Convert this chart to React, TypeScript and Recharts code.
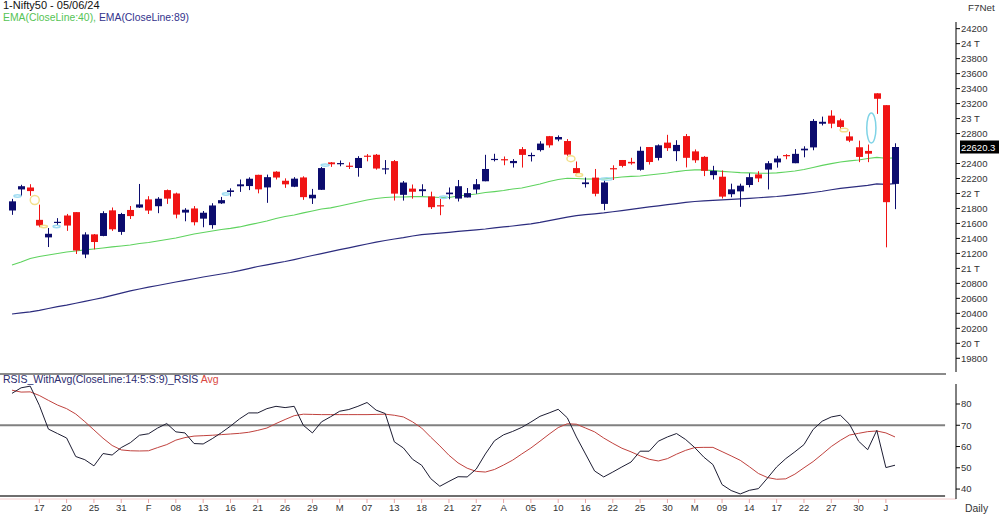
import React from 'react';
import { ComposedChart, Bar, Line, XAxis, YAxis, ReferenceLine, ReferenceDot } from 'recharts';

// trading days, 12 Jan 2024 .. 05 Jun 2024
const DATES = [
  '2024-01-12', '2024-01-15', '2024-01-16', '2024-01-17', '2024-01-18', '2024-01-19', '2024-01-20', '2024-01-23', '2024-01-24', '2024-01-25',
  '2024-01-29', '2024-01-30', '2024-01-31', '2024-02-01', '2024-02-02', '2024-02-05', '2024-02-06', '2024-02-07', '2024-02-08', '2024-02-09',
  '2024-02-12', '2024-02-13', '2024-02-14', '2024-02-15', '2024-02-16', '2024-02-19', '2024-02-20', '2024-02-21', '2024-02-22', '2024-02-23',
  '2024-02-26', '2024-02-27', '2024-02-28', '2024-02-29', '2024-03-01', '2024-03-02', '2024-03-04', '2024-03-05', '2024-03-06', '2024-03-07',
  '2024-03-11', '2024-03-12', '2024-03-13', '2024-03-14', '2024-03-15', '2024-03-18', '2024-03-19', '2024-03-20', '2024-03-21', '2024-03-22',
  '2024-03-26', '2024-03-27', '2024-03-28', '2024-04-01', '2024-04-02', '2024-04-03', '2024-04-04', '2024-04-05', '2024-04-08', '2024-04-09',
  '2024-04-10', '2024-04-12', '2024-04-15', '2024-04-16', '2024-04-18', '2024-04-19', '2024-04-22', '2024-04-23', '2024-04-24', '2024-04-25',
  '2024-04-26', '2024-04-29', '2024-04-30', '2024-05-02', '2024-05-03', '2024-05-06', '2024-05-07', '2024-05-08', '2024-05-09', '2024-05-10',
  '2024-05-13', '2024-05-14', '2024-05-15', '2024-05-16', '2024-05-17', '2024-05-18', '2024-05-21', '2024-05-22', '2024-05-23', '2024-05-24',
  '2024-05-27', '2024-05-28', '2024-05-29', '2024-05-30', '2024-05-31', '2024-06-03', '2024-06-04', '2024-06-05',
];

const OPEN = [
  21773, 22054, 22080, 21648, 21414, 21615, 21706, 21751, 21185, 21454,
  21433, 21775, 21487, 21780, 21812, 21921, 21830, 22045, 22000, 21745,
  21800, 21664, 21578, 21868, 22020, 22096, 22099, 22249, 22081, 22291,
  22170, 22090, 22214, 21935, 22049, 22415, 22403, 22371, 22340, 22505,
  22517, 22334, 22432, 21982, 22065, 22031, 21960, 21843, 21990, 21932,
  21947, 22053, 22163, 22456, 22458, 22405, 22592, 22506, 22579, 22765,
  22721, 22700, 22339, 22125, 22212, 21861, 22338, 22447, 22422, 22316,
  22620, 22475, 22679, 22565, 22766, 22562, 22489, 22245, 22224, 21990,
  22028, 22113, 22255, 22319, 22415, 22513, 22404, 22576, 22615, 22931,
  23039, 22977, 22762, 22617, 22568, 23337, 23179, 22128,
];
const HIGH = [
  21928, 22116, 22124, 21851, 21539, 21671, 21727, 21751, 21482, 21459,
  21763, 21813, 21741, 21833, 22127, 21964, 21951, 22053, 22011, 21804,
  21832, 21766, 21870, 21954, 22069, 22187, 22216, 22250, 22252, 22297,
  22202, 22218, 22229, 22061, 22353, 22420, 22440, 22416, 22498, 22526,
  22527, 22446, 22447, 22166, 22120, 22123, 22024, 21930, 22080, 22180,
  22073, 22193, 22516, 22530, 22494, 22459, 22620, 22545, 22698, 22768,
  22775, 22726, 22427, 22213, 22327, 22179, 22376, 22447, 22476, 22625,
  22620, 22655, 22783, 22711, 22794, 22588, 22499, 22369, 22307, 22131,
  22131, 22270, 22297, 22432, 22503, 22525, 22592, 22630, 22993, 23026,
  23111, 22998, 22825, 22705, 22653, 23338, 23179, 22670,
];
const LOW = [
  21715, 21965, 21969, 21550, 21285, 21575, 21501, 21192, 21137, 21254,
  21429, 21501, 21448, 21659, 21806, 21726, 21737, 21861, 21668, 21629,
  21574, 21549, 21530, 21860, 21960, 22021, 22045, 22002, 21875, 22187,
  22075, 22085, 21915, 21860, 22047, 22355, 22363, 22327, 22224, 22429,
  22318, 22257, 21906, 21905, 21931, 21966, 21793, 21710, 21923, 21893,
  21947, 21996, 22163, 22428, 22377, 22346, 22346, 22427, 22560, 22612,
  22697, 22503, 22259, 22079, 21962, 21777, 22180, 22349, 22384, 22305,
  22386, 22441, 22568, 22432, 22348, 22409, 22232, 22186, 21933, 21950,
  21822, 22082, 22152, 22054, 22345, 22457, 22404, 22483, 22577, 22908,
  22871, 22858, 22685, 22418, 22418, 23062, 21281, 21791,
];
const CLOSE = [
  21895, 22097, 22032, 21572, 21462, 21622, 21572, 21239, 21453, 21352,
  21738, 21522, 21726, 21698, 21854, 21772, 21930, 21931, 21718, 21783,
  21616, 21743, 21840, 21911, 22041, 22122, 22197, 22055, 22218, 22213,
  22122, 22198, 21951, 21983, 22339, 22390, 22406, 22356, 22474, 22494,
  22333, 22336, 21998, 22146, 22023, 22056, 21817, 21839, 22012, 22097,
  22005, 22124, 22327, 22462, 22453, 22434, 22515, 22514, 22666, 22643,
  22754, 22519, 22272, 22148, 21996, 22147, 22336, 22368, 22402, 22570,
  22420, 22643, 22605, 22648, 22476, 22443, 22302, 22303, 21958, 22055,
  22104, 22218, 22201, 22404, 22467, 22502, 22529, 22598, 22968, 22957,
  22932, 22888, 22705, 22488, 22531, 23264, 21884, 22620.3,
];

const EMA40 = [
  21045, 21085, 21132, 21159, 21179, 21199, 21219, 21232, 21246, 21259,
  21272, 21286, 21299, 21312, 21332, 21346, 21366, 21386, 21406, 21432,
  21459, 21479, 21499, 21519, 21533, 21553, 21580, 21606, 21633, 21666,
  21693, 21713, 21740, 21766, 21793, 21807, 21833, 21860, 21886, 21913,
  21933, 21946, 21953, 21953, 21957, 21957, 21953, 21946, 21946, 21966,
  21980, 21993, 22013, 22026, 22040, 22060, 22073, 22100, 22127, 22160,
  22187, 22203, 22200, 22193, 22193, 22193, 22207, 22220, 22227, 22233,
  22247, 22260, 22273, 22293, 22307, 22314, 22314, 22304, 22296, 22287,
  22278, 22274, 22270, 22270, 22274, 22287, 22300, 22320, 22347, 22374,
  22398, 22420, 22436, 22447, 22467, 22481, 22470, 22475,
];
const EMA89 = [
  20391, 20405, 20420, 20440, 20465, 20490, 20510, 20535, 20560, 20585,
  20610, 20640, 20670, 20700, 20725, 20750, 20772, 20795, 20818, 20840,
  20862, 20885, 20905, 20925, 20945, 20970, 20998, 21025, 21048, 21070,
  21092, 21118, 21145, 21172, 21198, 21223, 21250, 21275, 21300, 21326,
  21350, 21372, 21392, 21410, 21432, 21450, 21462, 21472, 21482, 21494,
  21505, 21515, 21526, 21540, 21553, 21566, 21580, 21595, 21615, 21638,
  21660, 21684, 21705, 21718, 21728, 21740, 21756, 21772, 21788, 21804,
  21820, 21835, 21850, 21865, 21880, 21893, 21900, 21907, 21914, 21920,
  21927, 21935, 21943, 21951, 21960, 21972, 21985, 21998, 22013, 22030,
  22050, 22069, 22082, 22095, 22107, 22127, 22122, 22132,
];

const RSI = [
  85, 87.6, 88.4, 79.4, 68.2, 66.1, 64, 55.3, 53.8, 50.9,
  56.7, 56, 59.5, 61.8, 65.3, 66, 68.7, 70.8, 66.9, 66.4,
  61.4, 61.2, 63.7, 66.5, 69.6, 73, 75.8, 75.8, 77.8, 78.9,
  78.3, 78.9, 70, 66.4, 71.6, 74, 76.6, 77.4, 78.9, 80.7,
  77.1, 75.5, 62.2, 59.3, 54, 51.2, 44.9, 41.3, 43.6, 45.8,
  45.7, 49.4, 56.5, 62.7, 65.5, 67.1, 69, 71.5, 74.2, 75.8,
  77.5, 73.5, 64.5, 56.5, 48.5, 45.7, 48, 50.4, 52.7, 57.8,
  57.8, 62.5, 64.5, 66.1, 63.3, 59.5, 55, 51.5, 42.1, 39.3,
  37.7, 39.4, 40.2, 45.2, 50.4, 54.3, 57.5, 60.9, 68, 71.9,
  73.9, 74.7, 70.5, 62.5, 58.5, 67.6, 50.1, 51.2,
];
const RSI_AVG = [
  86.5, 85.6, 85.7, 84, 81.7, 79.5, 77.8, 75.3, 71.7, 67.8,
  63.9, 60.5, 58.4, 58, 57.9, 58, 59.5, 60.9, 63, 64.2,
  64.9, 65.1, 65.3, 65.6, 65.9, 66.2, 66.7, 67.6, 68.7, 70.8,
  72.7, 74.5, 75.2, 75.1, 75, 75, 75, 75, 75, 75,
  75.1, 75.2, 74.7, 73.9, 71.6, 68.7, 64.4, 60.3, 55.9, 52.3,
  49.8, 48.3, 48, 49.2, 51.3, 53.6, 56.5, 59.3, 62.5, 65.8,
  68.9, 70.7, 70.5, 68.7, 66.9, 64, 61.5, 59.2, 57.5, 55.6,
  54, 53.2, 54.3, 56.4, 58.2, 59.5, 59.6, 59.6, 57.6, 55.6,
  53.5, 50.5, 47.3, 45.4, 44.6, 44.8, 47, 50, 52.9, 56.4,
  60, 62.9, 65.4, 66.2, 67, 67.3, 66.4, 64.5,
];

// 22600 is left out: the last-price tag sits there
const PRICE_TICKS = [
  19800, 20000, 20200, 20400, 20600, 20800, 21000, 21200, 21400, 21600, 21800,
  22000, 22200, 22400, 22800, 23000, 23200, 23400, 23600, 23800, 24000, 24200,
];
const RSI_TICKS = [40, 50, 60, 70, 80];
const X_TICK_IDX = [3, 6, 9, 12, 15, 18, 21, 24, 27, 30, 33, 36, 39, 42, 45, 48, 51, 54, 57, 60, 63, 66, 69, 72, 75, 78, 81, 84, 87, 90, 93, 96];
const X_TICK_LABELS = ['17', '20', '25', '31', 'F', '08', '13', '16', '21', '26', '29', 'M', '07', '13', '18', '21', '27', 'A', '05', '10', '16', '22', '25', '30', 'M', '09', '14', '17', '22', '27', '30', 'J'];

// pattern highlights drawn by the terminal (index, price)
const MARKERS = [
  { i: 0.6, price: 21967, rx: 3.5, ry: 1.2, color: '#9fdcf2' },
  { i: 2.5, price: 21913, rx: 4.5, ry: 4.5, color: '#f3e08c' },
  { i: 3.5, price: 21560, rx: 3.5, ry: 1.2, color: '#f3e08c' },
  { i: 4.9, price: 21560, rx: 3.5, ry: 1.2, color: '#9fdcf2' },
  { i: 23.5, price: 21993, rx: 3.5, ry: 1.2, color: '#9fdcf2' },
  { i: 34.4, price: 22379, rx: 4, ry: 1.2, color: '#9fdcf2' },
  { i: 47.4, price: 21949, rx: 4, ry: 1.2, color: '#9fdcf2' },
  { i: 61.4, price: 22465, rx: 4, ry: 3, color: '#f3e08c' },
  { i: 62.3, price: 22247, rx: 3.5, ry: 1.5, color: '#f3e08c' },
  { i: 65.3, price: 22193, rx: 6, ry: 1.2, color: '#9fdcf2' },
  { i: 91.4, price: 22847, rx: 4, ry: 1.8, color: '#f3e08c' },
  { i: 94.4, price: 22874, rx: 4.6, ry: 15, color: '#7fd3e6' },
];

const data = DATES.map((date, i) => ({
  i,
  date,
  open: OPEN[i],
  high: HIGH[i],
  low: LOW[i],
  close: CLOSE[i],
  range: [LOW[i], HIGH[i]],
  ema40: EMA40[i],
  ema89: EMA89[i],
  rsi: RSI[i],
  avg: RSI_AVG[i],
}));

const FONT = "'Liberation Sans', Arial, sans-serif";
const UP = '#0c0c6e';
const DOWN = '#f01414';
const X_MIN = -1.318;
const X_MAX = 103.7;
const PRICE_DOMAIN = [19617, 24289];
const AXIS_W = 43;

const Candle = (props: any) => {
  const { x, y, width, height, payload } = props;
  if (!payload) return null;
  const { open, close, high, low } = payload;
  const cx = Math.round(x + width / 2) + 0.5;
  const span = high - low || 1;
  const toY = (v: number) => y + ((high - v) / span) * height;
  const color = close >= open ? UP : DOWN;
  const top = toY(Math.max(open, close));
  const bot = toY(Math.min(open, close));
  return (
    <g>
      <line x1={cx} x2={cx} y1={y} y2={y + height} stroke={color} strokeWidth={1} />
      <rect x={cx - 3.5} y={top} width={7} height={Math.max(1.2, bot - top)} fill={color} />
    </g>
  );
};

// black last-price box on the right axis
const PriceTag = (props: any) => {
  const vb = props.viewBox;
  if (!vb) return null;
  const x = vb.x + vb.width + 4;
  return (
    <g>
      <rect x={x} y={vb.y - 6.5} width={39} height={13} fill="#000" />
      <text x={x + 1} y={vb.y + 3.5} fill="#fff" fontSize={9.5} fontFamily={FONT}>
        {CLOSE[CLOSE.length - 1]}
      </text>
    </g>
  );
};

const priceFmt = (v: number) => (v % 1000 === 0 ? `${v / 1000} T` : String(v));
const dateFmt = (v: number) => X_TICK_LABELS[X_TICK_IDX.indexOf(v)] ?? '';

const tickStyle = { fontSize: 9.5, fill: '#333', fontFamily: FONT };

export default function App() {
  return (
    <div style={{ position: 'absolute', left: 0, top: 0, width: 999, height: 517, background: '#fff', overflow: 'hidden', fontFamily: FONT }}>
      <div style={{ position: 'absolute', left: 3, top: 0, fontSize: 11, lineHeight: '11px', color: '#111', whiteSpace: 'nowrap' }}>
        1-Nifty50 - 05/06/24
      </div>
      <div style={{ position: 'absolute', left: 3, top: 13, fontSize: 10.4, lineHeight: '10.4px', whiteSpace: 'nowrap' }}>
        <span style={{ color: '#55c455' }}>EMA(CloseLine:40),</span>{' '}
        <span style={{ color: '#33338c' }}>EMA(CloseLine:89)</span>
      </div>
      <div style={{ position: 'absolute', left: 968, top: 3, fontSize: 9.8, lineHeight: '9.8px', color: '#333' }}>F7Net</div>

      {/* price panel, layer 1: axis + EMAs */}
      <div style={{ position: 'absolute', left: 0, top: 0 }}>
        <ComposedChart width={999} height={380} data={data} margin={{ top: 22, right: 0, bottom: 8, left: 0 }}>
          <XAxis dataKey="i" type="number" domain={[X_MIN, X_MAX]} allowDataOverflow hide />
          <YAxis
            orientation="right"
            width={AXIS_W}
            domain={PRICE_DOMAIN}
            allowDataOverflow
            ticks={PRICE_TICKS}
            tickFormatter={priceFmt}
            tick={tickStyle}
            tickSize={4}
            tickMargin={1}
            stroke="#000"
            interval={0}
          />
          <Line dataKey="ema40" stroke="#5fd35f" strokeWidth={1.2} dot={false} activeDot={false} isAnimationActive={false} />
          <Line dataKey="ema89" stroke="#2c2c7e" strokeWidth={1.2} dot={false} activeDot={false} isAnimationActive={false} />
        </ComposedChart>
      </div>

      {/* price panel, layer 2: candles drawn over the EMAs */}
      <div style={{ position: 'absolute', left: 0, top: 0 }}>
        <ComposedChart width={999} height={380} data={data} margin={{ top: 22, right: AXIS_W, bottom: 8, left: 0 }}>
          <XAxis dataKey="i" type="number" domain={[X_MIN, X_MAX]} allowDataOverflow hide />
          <YAxis hide domain={PRICE_DOMAIN} allowDataOverflow />
          <Bar dataKey="range" barSize={7} shape={Candle} isAnimationActive={false} />
          {MARKERS.map((m, k) => (
            <ReferenceDot
              key={k}
              x={m.i}
              y={m.price}
              r={m.rx}
              shape={(p: any) => (
                <ellipse cx={p.cx} cy={p.cy} rx={m.rx} ry={m.ry} fill="none" stroke={m.color} strokeWidth={1.5} />
              )}
            />
          ))}
          <ReferenceLine y={CLOSE[CLOSE.length - 1]} stroke="none" label={(p: any) => <PriceTag {...p} />} />
        </ComposedChart>
      </div>

      <div style={{ position: 'absolute', left: 0, top: 373, width: 946, height: 2, background: '#8a8a8a' }} />
      <div style={{ position: 'absolute', left: 3, top: 374, fontSize: 10.5, lineHeight: '10.5px', whiteSpace: 'nowrap' }}>
        <span style={{ color: '#2b2b6e' }}>RSIS_WithAvg(CloseLine:14:5:S:9)_RSIS</span>{' '}
        <span style={{ color: '#d9483f' }}>Avg</span>
      </div>

      <div style={{ position: 'absolute', left: 0, top: 372 }}>
        <ComposedChart width={999} height={145} data={data} margin={{ top: 12, right: 0, bottom: 0, left: 0 }}>
          <XAxis
            dataKey="i"
            type="number"
            domain={[X_MIN, X_MAX]}
            allowDataOverflow
            ticks={X_TICK_IDX}
            interval={0}
            tickFormatter={dateFmt}
            tick={tickStyle}
            tickSize={4}
            tickMargin={1}
            height={18}
            axisLine={{ stroke: '#f2cccc' }}
            tickLine={{ stroke: '#e9a5a5' }}
          />
          <YAxis
            orientation="right"
            width={AXIS_W}
            domain={[35.32, 89.4]}
            allowDataOverflow
            ticks={RSI_TICKS}
            tick={tickStyle}
            tickSize={4}
            tickMargin={1}
            stroke="#000"
            interval={0}
          />
          <ReferenceLine segment={[{ x: X_MIN, y: 70 }, { x: 102.5, y: 70 }]} stroke="#808080" strokeWidth={2} />
          <ReferenceLine segment={[{ x: X_MIN, y: 36.73 }, { x: 102.5, y: 36.73 }]} stroke="#6e6e6e" strokeWidth={2} />
          <Line dataKey="avg" stroke="#c0423e" strokeWidth={1} dot={false} activeDot={false} isAnimationActive={false} />
          <Line dataKey="rsi" stroke="#1d1d33" strokeWidth={1} dot={false} activeDot={false} isAnimationActive={false} />
        </ComposedChart>
      </div>

      <div style={{ position: 'absolute', left: 965, top: 504, fontSize: 10.4, lineHeight: '10.4px', color: '#333' }}>Daily</div>
    </div>
  );
}
